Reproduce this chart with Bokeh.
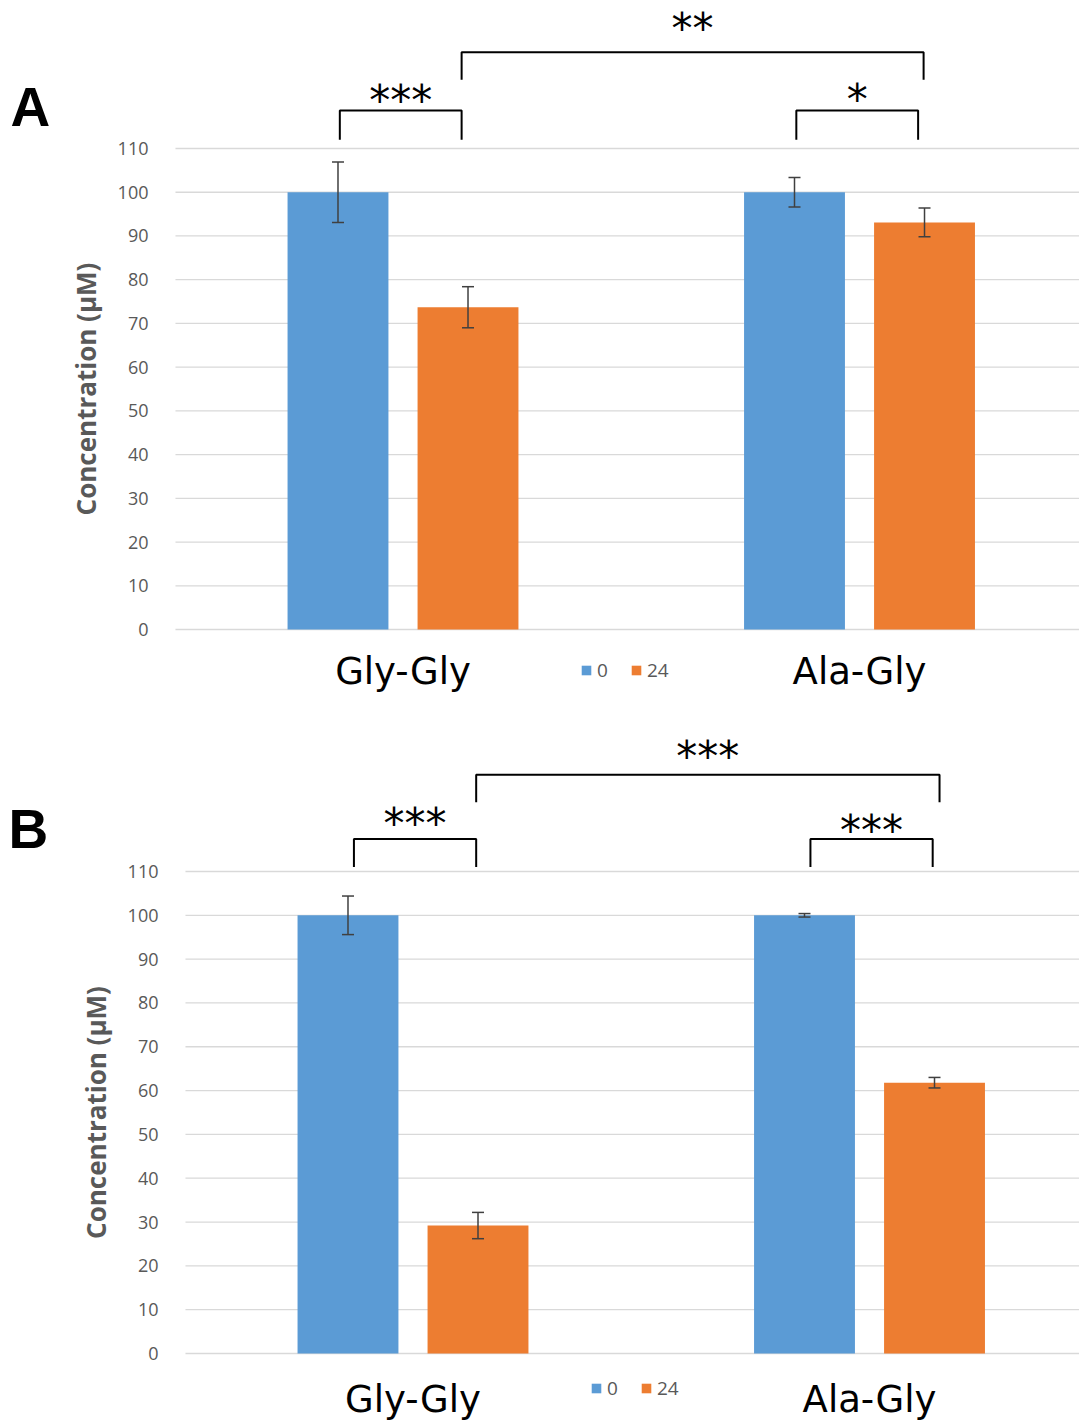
from bokeh.plotting import figure
from bokeh.models import (Range1d, FixedTicker, ColumnDataSource, Whisker, TeeHead,
                          Legend, LegendItem)
from bokeh.layouts import column
from bokeh.embed import file_html
from bokeh.resources import INLINE
from bokeh.core.properties import value

# ---------------- data ----------------
categories = ["Gly-Gly", "Ala-Gly"]
series_names = ["0", "24"]
y_ticks = list(range(0, 111, 10))

a_t0 = [100.0, 100.0]
a_t0_err = [6.9, 3.4]
a_t24 = [73.7, 93.1]
a_t24_err = [4.7, 3.3]

b_t0 = [100.0, 100.0]
b_t0_err = [4.4, 0.4]
b_t24 = [29.2, 61.8]
b_t24_err = [3.0, 1.2]

# significance: within Gly-Gly, within Ala-Gly, between the 24 h bars
a_sig = ["***", "*", "**"]
b_sig = ["***", "***", "***"]

BLUE = "#5B9BD5"
ORANGE = "#ED7D31"
GRAY = "#595959"
GRID = "#D9D9D9"
FONT = "Open Sans"

group_x = [0.5, 1.5]
DODGE = 0.1424
BAR_W = 0.221


def make_panel(letter, t0, t0e, t24, t24e, sig, cfg):
    p = figure(width=1079, height=710, output_backend="svg", toolbar_location=None,
               x_range=Range1d(cfg["x0"], cfg["x1"]), y_range=Range1d(cfg["ybot"], cfg["ytop"]),
               min_border_left=0, min_border_right=0, min_border_top=0, min_border_bottom=0)
    p.outline_line_color = None
    p.background_fill_color = "white"
    p.border_fill_color = "white"
    p.xgrid.grid_line_color = None
    p.ygrid.grid_line_color = None

    # horizontal gridlines at the tick values
    n = len(y_ticks)
    p.segment(x0=[cfg["ax"]] * n, y0=y_ticks, x1=[cfg["x1"]] * n, y1=y_ticks,
              line_color=GRID, line_width=1.3)

    xb = [g - DODGE for g in group_x]
    xo = [g + DODGE for g in group_x]
    src0 = ColumnDataSource(dict(x=xb, top=t0, lo=[v - e for v, e in zip(t0, t0e)],
                                 hi=[v + e for v, e in zip(t0, t0e)]))
    src24 = ColumnDataSource(dict(x=xo, top=t24, lo=[v - e for v, e in zip(t24, t24e)],
                                  hi=[v + e for v, e in zip(t24, t24e)]))
    r0 = p.vbar(x="x", top="top", width=BAR_W, source=src0, fill_color=BLUE, line_color=None)
    r24 = p.vbar(x="x", top="top", width=BAR_W, source=src24, fill_color=ORANGE, line_color=None)
    for s in (src0, src24):
        w = Whisker(source=s, base="x", upper="hi", lower="lo", line_color="#404040",
                    line_width=1.5, level="overlay",
                    upper_head=TeeHead(size=12, line_color="#404040", line_width=1.5),
                    lower_head=TeeHead(size=12, line_color="#404040", line_width=1.5))
        p.add_layout(w)

    # y axis (drawn at the left edge of the plotting region)
    p.yaxis.fixed_location = cfg["ax"]
    p.yaxis.bounds = (0, 110)
    p.yaxis.ticker = FixedTicker(ticks=y_ticks)
    p.yaxis.axis_line_color = None
    p.yaxis.major_tick_line_color = None
    p.yaxis.minor_tick_line_color = None
    p.yaxis.major_label_text_font = FONT
    p.yaxis.major_label_text_font_size = "18px"
    p.yaxis.major_label_text_color = GRAY
    p.yaxis.major_label_standoff = 21
    p.yaxis.axis_label = "Concentration (µM)"
    p.yaxis.axis_label_text_font = FONT
    p.yaxis.axis_label_text_font_style = "bold"
    p.yaxis.axis_label_text_font_size = "26px"
    p.yaxis.axis_label_text_color = GRAY
    p.yaxis.axis_label_standoff = 11

    # x axis (categories) drawn at y = 0
    p.xaxis.fixed_location = 0
    p.xaxis.ticker = FixedTicker(ticks=group_x)
    p.xaxis.major_label_overrides = {group_x[0]: categories[0], group_x[1]: categories[1]}
    p.xaxis.axis_line_color = None
    p.xaxis.major_tick_line_color = None
    p.xaxis.minor_tick_line_color = None
    p.xaxis.major_label_text_font = "DejaVu Sans"
    p.xaxis.major_label_text_font_size = "37px"
    p.xaxis.major_label_text_color = "black"
    p.xaxis.major_label_standoff = cfg["xstand"]

    # significance brackets
    inL, inR, bigR = cfg["inL"], cfg["inR"], cfg["bigR"]
    bxs, bys, sx, sy = [], [], [], []
    for g in range(2):
        x0 = xb[g] + inL
        x1 = xo[g] + inR
        bxs.append([x0, x0, x1, x1])
        bys.append([cfg["leg_lo"], cfg["small_top"], cfg["small_top"], cfg["leg_lo"]])
        sx.append((x0 + x1) / 2)
        sy.append(cfg["small_star"][g])
    bx0 = xo[0] + inR
    bx1 = xo[1] + bigR
    bxs.append([bx0, bx0, bx1, bx1])
    bys.append([cfg["big_lo"], cfg["big_top"], cfg["big_top"], cfg["big_lo"]])
    sx.append((bx0 + bx1) / 2)
    sy.append(cfg["big_star"])
    p.multi_line(xs=bxs, ys=bys, line_color="black", line_width=2)
    p.text(x=sx, y=sy, text=sig, text_font=value("DejaVu Sans"), text_font_size="42px",
           text_align="center", text_baseline="middle", text_color="black")

    # panel letter
    p.text(x=[cfg["lx"]], y=[cfg["ly"]], text=[letter], text_font=value("Liberation Sans"),
           text_font_style="bold", text_font_size="55px", text_color="black",
           text_align="left", text_baseline="alphabetic")

    # legend
    leg = Legend(items=[LegendItem(label=series_names[0], renderers=[r0]),
                        LegendItem(label=series_names[1], renderers=[r24])],
                 orientation="horizontal", location=cfg["legloc"],
                 glyph_width=12, glyph_height=12, label_height=12, label_standoff=5,
                 spacing=13, padding=0, margin=0, border_line_color=None,
                 background_fill_alpha=0, label_text_font=FONT,
                 label_text_font_size="19px", label_text_color=GRAY)
    p.add_layout(leg, "center")
    return p


cfg_a = dict(x0=-0.3817, x1=1.9819, ybot=-18.52, ytop=143.85, ax=0.0016, xstand=14,
             inL=0.004, inR=-0.014, bigR=-0.002,
             leg_lo=112.0, small_top=118.7, small_star=[121.0, 121.1],
             big_lo=125.7, big_top=132.0, big_star=137.4,
             lx=-0.3598, ly=119.4, legloc=(580, 27))
cfg_b = dict(x0=-0.4036, x1=1.960, ybot=-15.29, ytop=146.74, ax=0.0016, xstand=18,
             inL=0.013, inR=-0.004, bigR=0.011,
             leg_lo=111.0, small_top=117.4, small_star=[120.9, 119.3],
             big_lo=125.8, big_top=132.1, big_star=136.2,
             lx=-0.386, ly=119.8, legloc=(590, 19))

pa = make_panel("A", a_t0, a_t0_err, a_t24, a_t24_err, a_sig, cfg_a)
pb = make_panel("B", b_t0, b_t0_err, b_t24, b_t24_err, b_sig, cfg_b)

layout = column(pa, pb, spacing=0)
open("out.html", "w").write(file_html(layout, INLINE))
